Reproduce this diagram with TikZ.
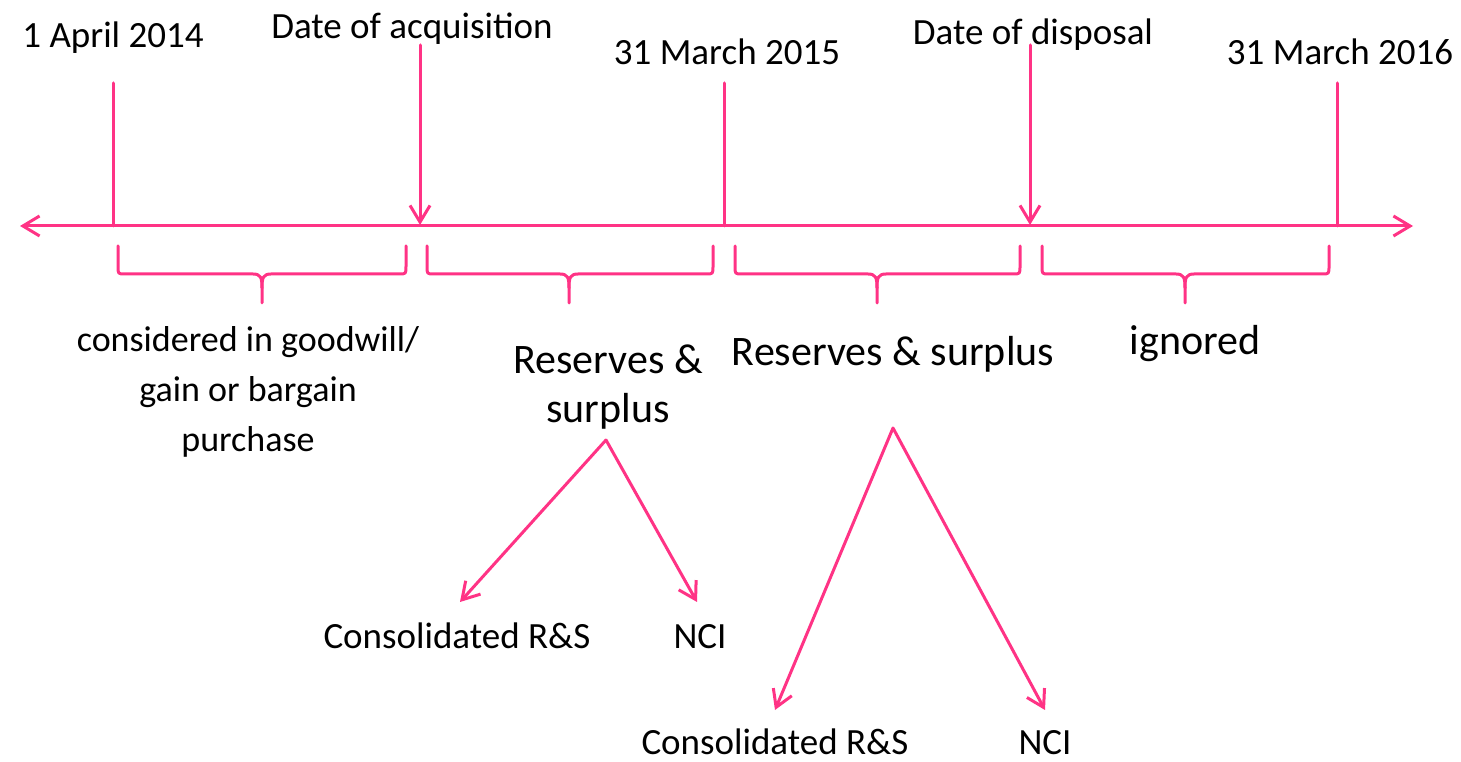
\documentclass[tikz,border=0pt]{standalone}
\usepackage{fontspec}
\setmainfont{Carlito}
\usetikzlibrary{arrows.meta}
\definecolor{tlpink}{RGB}{255,51,133}
\begin{document}
\begin{tikzpicture}[x=0.75pt,y=-0.75pt,
  pinkline/.style={draw=tlpink,line width=2.25pt,line cap=round,line join=round},
  barb/.style={-{Straight Barb[length=12.5pt,width=15pt]}},
  twobarb/.style={{Straight Barb[length=12.5pt,width=15pt]}-{Straight Barb[length=12.5pt,width=15pt]}},
  datelabel/.style={anchor=base,inner sep=0pt,font=\fontsize{27.75pt}{33pt}\selectfont},
  periodlabel/.style={anchor=base,inner sep=0pt,align=center,font=\fontsize{31.5pt}{37pt}\selectfont},
  splitlabel/.style={anchor=base,inner sep=0pt,font=\fontsize{27.75pt}{33pt}\selectfont}]
\useasboundingbox (0,0) rectangle (1461,762);

% timeline
\coordinate (tlstart) at (20,226);
\coordinate (tlend) at (1413,226);
\draw[pinkline,twobarb] (tlstart) -- (tlend);

% dates on the timeline
\coordinate (d1top) at (113,83);   \coordinate (d1) at (113,226);
\coordinate (d2top) at (420,45);   \coordinate (d2) at (420,225);
\coordinate (d3top) at (724,83);   \coordinate (d3) at (724,226);
\coordinate (d4top) at (1030,45);  \coordinate (d4) at (1030,225);
\coordinate (d5top) at (1337,83);  \coordinate (d5) at (1337,226);
\draw[pinkline] (d1top) -- (d1);
\draw[pinkline,barb] (d2top) -- (d2);
\draw[pinkline] (d3top) -- (d3);
\draw[pinkline,barb] (d4top) -- (d4);
\draw[pinkline] (d5top) -- (d5);

\node[datelabel] (l1) at (113,48) {1 April 2014};
\node[datelabel] (l2) at (412,39) {Date of acquisition};
\node[datelabel] (l3) at (727,65) {31 March 2015};
\node[datelabel] (l4) at (1033,45) {Date of disposal};
\node[datelabel] (l5) at (1340,65) {31 March 2016};

% braces under each period
\newcommand\periodbrace[3]{%
  \draw[pinkline] (#1,246) -- (#1,266) .. controls (#1,274) .. (#1+7,274)
    -- (#2-9,274) .. controls (#2-1,274) and (#2,278) .. (#2,288) -- (#2,303);
  \draw[pinkline] (#3,246) -- (#3,266) .. controls (#3,274) .. (#3-7,274)
    -- (#2+9,274) .. controls (#2+1,274) and (#2,278) .. (#2,288);}
\periodbrace{118}{262}{406}
\periodbrace{427}{569}{713}
\periodbrace{735}{877}{1020}
\periodbrace{1042}{1185}{1329}

% period descriptions (base anchor sits on the last line)
\node[periodlabel,font=\fontsize{27pt}{37.5pt}\selectfont] (p1) at (248,452)
  {considered in goodwill/\\gain or bargain\\purchase};
\node[periodlabel] (p2) at (608,423) {Reserves \&\\surplus};
\node[periodlabel] (p3) at (893,366) {Reserves \& surplus};
\node[periodlabel] (p4) at (1195,355) {ignored};

% split of post-acquisition reserves
\coordinate (s1) at (606,440);
\coordinate (s2) at (893,428);
\node[splitlabel] (c1) at (457,649) {Consolidated R\&S};
\node[splitlabel] (n1) at (700,649) {NCI};
\node[splitlabel] (c2) at (775,754) {Consolidated R\&S};
\node[splitlabel] (n2) at (1045,754) {NCI};
\coordinate (c1t) at (460,602);
\coordinate (n1t) at (697,602);
\coordinate (c2t) at (775,710);
\coordinate (n2t) at (1045,710);
\draw[pinkline,barb] (s1) -- (c1t);
\draw[pinkline,barb] (s1) -- (n1t);
\draw[pinkline,barb] (s2) -- (c2t);
\draw[pinkline,barb] (s2) -- (n2t);
\end{tikzpicture}
\end{document}
